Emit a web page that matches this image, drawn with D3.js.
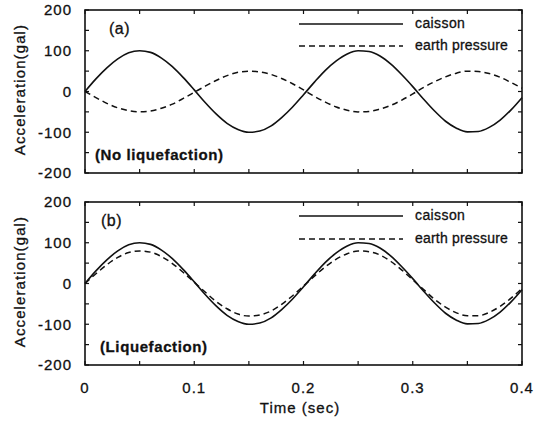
<!DOCTYPE html>
<html><head><meta charset="utf-8">
<script src="https://cdn.jsdelivr.net/npm/d3@7"></script>
<style>body{margin:0;background:#fff}svg{display:block}text{font-family:"Liberation Sans",Arial,sans-serif;fill:#111;stroke:#111;stroke-width:0.3px}</style>
</head><body>
<script>
const time = [0,0.01,0.02,0.03,0.04,0.05,0.06,0.07,0.08,0.09,0.10,0.11,0.12,0.13,0.14,0.15,0.16,0.17,0.18,0.19,0.20,0.21,0.22,0.23,0.24,0.25,0.26,0.27,0.28,0.29,0.30,0.31,0.32,0.33,0.34,0.35,0.36,0.37,0.38,0.39,0.40];
const caissonA = [0,31,58,80,95,100,96,82,61,34,4,-27,-55,-78,-93,-100,-97,-85,-64,-38,-8,23,52,75,92,100,98,87,67,41,12,-19,-48,-73,-90,-99,-98,-88,-70,-45,-15];
const earthA = [0,-15,-29,-40,-47,-50,-48,-41,-31,-17,-2,13,27,39,47,50,48,42,32,19,4,-12,-26,-38,-46,-50,-49,-43,-34,-21,-6,10,24,36,45,50,49,44,35,22,8];
const caissonB = [0,31,58,80,95,100,96,82,61,34,4,-27,-55,-78,-93,-100,-97,-85,-64,-38,-8,23,52,75,92,100,98,87,67,41,12,-19,-48,-73,-90,-99,-98,-88,-70,-45,-15];
const earthB = [0,24,46,64,76,80,77,66,49,27,3,-21,-44,-62,-75,-80,-77,-68,-51,-30,-6,18,41,60,73,80,78,70,54,33,9,-15,-39,-58,-72,-79,-79,-71,-56,-36,-12];
const xTickLabels = [0, 0.1, 0.2, 0.3, 0.4];
const yTickLabels = [-200, -100, 0, 100, 200];
const seriesNames = ["caisson", "earth pressure"];
const panelLetters = ["(a)", "(b)"];
const panelNotes = ["(No liquefaction)", "(Liquefaction)"];

const W = 534, H = 421;
const svg = d3.select("body").append("svg").attr("width", W).attr("height", H);
const left = 85, right = 522;
const x = d3.scaleLinear().domain([0, 0.4]).range([left, right]);
const panels = [
  {top: 10, bottom: 173, c: caissonA, e: earthA, letter: panelLetters[0], note: panelNotes[0], legY: [24, 46]},
  {top: 202, bottom: 365, c: caissonB, e: earthB, letter: panelLetters[1], note: panelNotes[1], legY: [216, 239]}
];
const minorX = d3.range(0, 0.4001, 0.05);
const minorY = d3.range(-200, 200.1, 50);

panels.forEach((p, i) => {
  const y = d3.scaleLinear().domain([-200, 200]).range([p.bottom, p.top]);
  const g = svg.append("g");
  const tl = 4;
  minorX.forEach(v => {
    g.append("line").attr("x1", x(v)).attr("x2", x(v)).attr("y1", p.bottom).attr("y2", p.bottom - tl).attr("stroke", "#111").attr("stroke-width", 1.2);
    g.append("line").attr("x1", x(v)).attr("x2", x(v)).attr("y1", p.top).attr("y2", p.top + tl).attr("stroke", "#111").attr("stroke-width", 1.2);
  });
  minorY.forEach(v => {
    g.append("line").attr("x1", left).attr("x2", left + tl).attr("y1", y(v)).attr("y2", y(v)).attr("stroke", "#111").attr("stroke-width", 1.2);
    g.append("line").attr("x1", right).attr("x2", right - tl).attr("y1", y(v)).attr("y2", y(v)).attr("stroke", "#111").attr("stroke-width", 1.2);
  });
  g.append("rect").attr("x", left).attr("y", p.top).attr("width", right - left).attr("height", p.bottom - p.top)
    .attr("fill", "none").attr("stroke", "#111").attr("stroke-width", 1.6);
  yTickLabels.forEach(v => {
    g.append("text").attr("x", 72).attr("y", y(v)).attr("dy", "0.36em").attr("text-anchor", "end")
      .attr("font-size", 15).attr("letter-spacing", 1).text(v);
  });
  g.append("text").attr("transform", `translate(25,${(p.top + p.bottom) / 2 - 2}) rotate(-90)`)
    .attr("text-anchor", "middle").attr("font-size", 15).attr("letter-spacing", 1.1).text("Acceleration(gal)");
  const line = arr => d3.line().x((d, k) => x(time[k])).y(d => y(d)).curve(d3.curveMonotoneX)(arr);
  g.append("path").attr("d", line(p.e)).attr("fill", "none").attr("stroke", "#111").attr("stroke-width", 1.5).attr("stroke-dasharray", "6,4");
  g.append("path").attr("d", line(p.c)).attr("fill", "none").attr("stroke", "#111").attr("stroke-width", 1.6);
  g.append("line").attr("x1", 299).attr("x2", 403).attr("y1", p.legY[0]).attr("y2", p.legY[0]).attr("stroke", "#111").attr("stroke-width", 1.6);
  g.append("line").attr("x1", 299).attr("x2", 403).attr("y1", p.legY[1]).attr("y2", p.legY[1]).attr("stroke", "#111").attr("stroke-width", 1.4).attr("stroke-dasharray", "6,4");
  g.append("text").attr("x", 415).attr("y", p.legY[0]).attr("dy", "0.3em").attr("font-size", 14).attr("letter-spacing", 0.4).text(seriesNames[0]);
  g.append("text").attr("x", 415).attr("y", p.legY[1]).attr("dy", "0.3em").attr("font-size", 14).attr("letter-spacing", 0.2).text(seriesNames[1]);
  g.append("text").attr("x", i === 0 ? 109 : 101).attr("y", p.top + 18).attr("dy", "0.36em").attr("font-size", 16).attr("letter-spacing", 0.5).text(p.letter);
  g.append("text").attr("x", i === 0 ? 95 : 100).attr("y", p.top + 145).attr("dy", "0.36em").attr("font-size", 15).attr("font-weight", "bold").attr("letter-spacing", 0.6).text(p.note);
});

xTickLabels.forEach(v => {
  svg.append("text").attr("x", x(v)).attr("y", 388).attr("dy", "0.36em").attr("text-anchor", "middle")
    .attr("font-size", 15).attr("letter-spacing", 1).text(v);
});
svg.append("text").attr("x", 300).attr("y", 408).attr("dy", "0.36em").attr("text-anchor", "middle")
  .attr("font-size", 15).attr("letter-spacing", 1).text("Time (sec)");
</script>
</body></html>
